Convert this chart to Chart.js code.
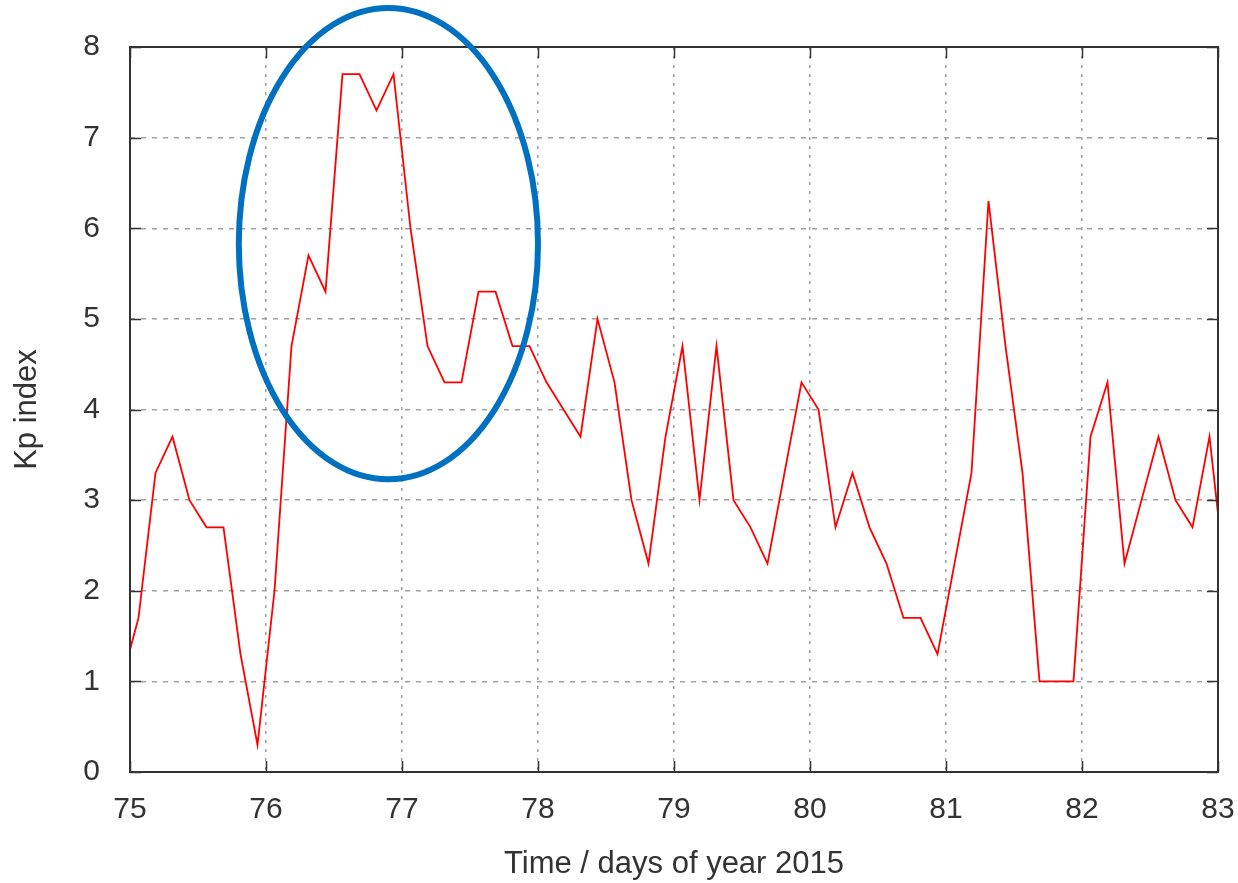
<!DOCTYPE html>
<html>
<head>
<meta charset="utf-8">
<title>Kp index</title>
<script src="https://cdn.jsdelivr.net/npm/chart.js@4.4.1/dist/chart.umd.min.js"></script>
<style>
  html, body { margin: 0; padding: 0; background: #fff; }
  #wrap { position: relative; width: 1238px; height: 883px; }
</style>
</head>
<body>
<div id="wrap"><canvas id="kp-chart" width="1238" height="883"></canvas></div>
<script>
// 3-hourly Kp samples, plotted at the middle of each interval (day of year 2015)
const dayOfYear = [
  74.9375,
  75.0625, 75.1875, 75.3125, 75.4375, 75.5625, 75.6875, 75.8125, 75.9375,
  76.0625, 76.1875, 76.3125, 76.4375, 76.5625, 76.6875, 76.8125, 76.9375,
  77.0625, 77.1875, 77.3125, 77.4375, 77.5625, 77.6875, 77.8125, 77.9375,
  78.0625, 78.1875, 78.3125, 78.4375, 78.5625, 78.6875, 78.8125, 78.9375,
  79.0625, 79.1875, 79.3125, 79.4375, 79.5625, 79.6875, 79.8125, 79.9375,
  80.0625, 80.1875, 80.3125, 80.4375, 80.5625, 80.6875, 80.8125, 80.9375,
  81.0625, 81.1875, 81.3125, 81.4375, 81.5625, 81.6875, 81.8125, 81.9375,
  82.0625, 82.1875, 82.3125, 82.4375, 82.5625, 82.6875, 82.8125, 82.9375,
  83.0625
];
const kpValues = [
  1.0,
  1.7, 3.3, 3.7, 3.0, 2.7, 2.7, 1.3, 0.3,
  2.0, 4.7, 5.7, 5.3, 7.7, 7.7, 7.3, 7.7,
  6.0, 4.7, 4.3, 4.3, 5.3, 5.3, 4.7, 4.7,
  4.3, 4.0, 3.7, 5.0, 4.3, 3.0, 2.3, 3.7,
  4.7, 3.0, 4.7, 3.0, 2.7, 2.3, 3.3, 4.3,
  4.0, 2.7, 3.3, 2.7, 2.3, 1.7, 1.7, 1.3,
  2.3, 3.3, 6.3, 4.7, 3.3, 1.0, 1.0, 1.0,
  3.7, 4.3, 2.3, 3.0, 3.7, 3.0, 2.7, 3.7,
  2.0
];
const xRange = [75, 83];
const yRange = [0, 8];

// storm period highlighted with an ellipse (centre / radii in data units)
const ringCentre = [76.9, 5.83];
const ringRadius = [1.1, 2.6];

const FONT = 'Liberation Sans, Arial, sans-serif';
const INK = '#333333';
const GRID = '#a0a0a0';

// gnuplot-like frame with inward ticks on all four sides
const framePlugin = {
  id: 'frame',
  afterDatasetsDraw(chart) {
    const { ctx, chartArea: a, scales: { x, y } } = chart;
    const len = 11;
    ctx.save();
    ctx.strokeStyle = INK;
    ctx.lineWidth = 1.5;
    ctx.beginPath();
    x.ticks.forEach(t => {
      const px = Math.round(x.getPixelForValue(t.value)) + 0.5;
      ctx.moveTo(px, a.bottom); ctx.lineTo(px, a.bottom - len);
      ctx.moveTo(px, a.top); ctx.lineTo(px, a.top + len);
    });
    y.ticks.forEach(t => {
      const py = Math.round(y.getPixelForValue(t.value)) + 0.5;
      ctx.moveTo(a.left, py); ctx.lineTo(a.left + len, py);
      ctx.moveTo(a.right, py); ctx.lineTo(a.right - len, py);
    });
    ctx.stroke();
    ctx.lineWidth = 2;
    ctx.strokeRect(a.left, a.top, a.width, a.height);
    ctx.restore();
  },
  afterDraw(chart) {
    const { ctx, scales: { x, y } } = chart;
    const cx = x.getPixelForValue(ringCentre[0]);
    const cy = y.getPixelForValue(ringCentre[1]);
    const rx = x.getPixelForValue(ringCentre[0] + ringRadius[0]) - cx;
    const ry = cy - y.getPixelForValue(ringCentre[1] + ringRadius[1]);
    ctx.save();
    ctx.strokeStyle = '#0070c0';
    ctx.lineWidth = 6;
    ctx.beginPath();
    ctx.ellipse(cx, cy, rx, ry, 0, 0, Math.PI * 2);
    ctx.stroke();
    ctx.restore();
  }
};

new Chart(document.getElementById('kp-chart').getContext('2d'), {
  type: 'line',
  data: {
    datasets: [{
      data: dayOfYear.map((d, i) => ({ x: d, y: kpValues[i] })),
      borderColor: '#ff0000',
      borderWidth: 1.8,
      pointRadius: 0,
      tension: 0,
      fill: false
    }]
  },
  options: {
    responsive: false,
    animation: false,
    events: [],
    layout: { padding: { top: 47, right: 20, left: 0, bottom: 0 } },
    plugins: { legend: { display: false }, tooltip: { enabled: false } },
    scales: {
      x: {
        type: 'linear',
        min: xRange[0], max: xRange[1],
        // fixed axis height; end labels may hang over the margins
        afterFit: s => { s.height = 111; s.paddingLeft = 0; s.paddingRight = 0; },
        grid: { color: GRID, lineWidth: 1.5, drawTicks: false },
        border: { display: false, dash: [3, 6] },
        ticks: { stepSize: 1, padding: 20, color: INK, font: { family: FONT, size: 30 } },
        title: {
          display: true, text: 'Time / days of year 2015', color: INK,
          font: { family: FONT, size: 31 }, padding: { top: 0, bottom: 0 }
        }
      },
      y: {
        min: yRange[0], max: yRange[1],
        afterFit: s => { s.width = 130; s.paddingTop = 0; s.paddingBottom = 0; },
        grid: { color: GRID, lineWidth: 1.5, drawTicks: false },
        border: { display: false, dash: [5, 6] },
        ticks: { stepSize: 1, padding: 30, color: INK, font: { family: FONT, size: 30 } },
        title: {
          display: true, text: 'Kp index', color: INK,
          font: { family: FONT, size: 31 }, padding: { top: 9, bottom: 0 }
        }
      }
    }
  },
  plugins: [framePlugin]
});
</script>
</body>
</html>
